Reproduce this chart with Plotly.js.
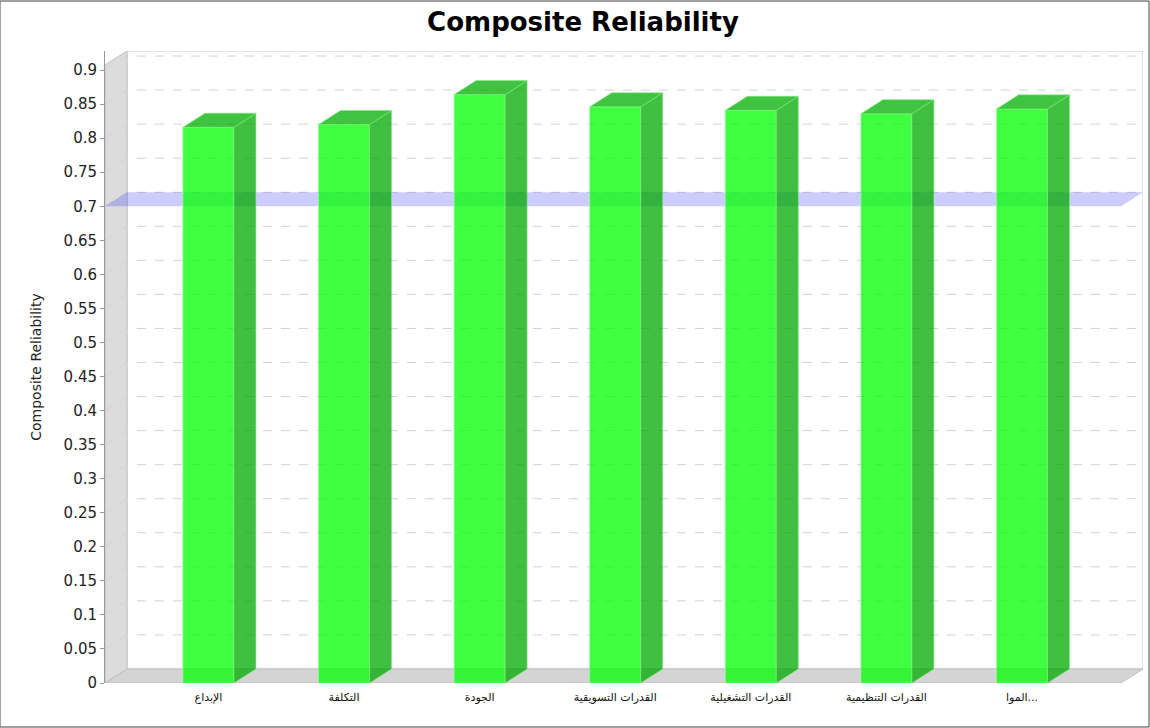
<!DOCTYPE html>
<html>
<head>
<meta charset="utf-8">
<script src="https://cdn.plot.ly/plotly-3.0.1.min.js"></script>
<style>html,body{margin:0;padding:0;background:#fff;}#chart{width:1150px;height:728px;}</style>
</head>
<body>
<div id="chart"></div>
<script>
// ---- data ----
const categories = ["الإبداع", "التكلفة", "الجودة", "القدرات التسويقية", "القدرات التشغيلية", "القدرات التنظيمية", "الموا..."];
const values = [0.816, 0.820, 0.864, 0.846, 0.841, 0.836, 0.843];
const threshold = 0.7;
const yTickVals = [0,0.05,0.1,0.15,0.2,0.25,0.3,0.35,0.4,0.45,0.5,0.55,0.6,0.65,0.7,0.75,0.8,0.85,0.9];
const yTickText = ["0","0.05","0.1","0.15","0.2","0.25","0.3","0.35","0.4","0.45","0.5","0.55","0.6","0.65","0.7","0.75","0.8","0.85","0.9"];

// ---- 3D look geometry (axis units) ----
const X0 = -0.763, X1 = 6.892, DX = 0.162, DY = 0.0206, YTOP = 0.928, W = 0.376;
const X1F = X1 - DX;
const xs = categories.map((c, i) => i);

const traces = [];

// bar front faces
traces.push({
  type: 'bar', x: xs, y: values, width: W, hoverinfo: 'skip', showlegend: false,
  marker: {color: 'rgba(0,255,0,0.75)', line: {color: 'rgba(140,255,140,0.7)', width: 1}}
});

// bar side and top faces
xs.forEach((x, i) => {
  const v = values[i], r = x + W / 2, l = x - W / 2;
  traces.push({
    type: 'scatter', mode: 'lines', hoverinfo: 'skip', showlegend: false,
    x: [r, r + DX, r + DX, r, r], y: [0, DY, v + DY, v, 0],
    fill: 'toself', fillcolor: 'rgba(0,170,0,0.75)', line: {color: 'rgba(130,235,130,0.6)', width: 1}
  });
  traces.push({
    type: 'scatter', mode: 'lines', hoverinfo: 'skip', showlegend: false,
    x: [l, l + DX, r + DX, r, l], y: [v, v + DY, v + DY, v, v],
    fill: 'toself', fillcolor: 'rgba(0,175,0,0.75)', line: {color: 'rgba(130,235,130,0.6)', width: 1}
  });
});

const shapes = [
  // back wall
  {type: 'rect', xref: 'x', yref: 'y', x0: X0 + DX, x1: X1, y0: DY, y1: YTOP, line: {color: '#c8c8c8', width: 1}, fillcolor: 'rgba(0,0,0,0)', layer: 'below'},
  // left wall
  {type: 'path', xref: 'x', yref: 'y', path: `M ${X0},0 L ${X0 + DX},${DY} L ${X0 + DX},${YTOP} L ${X0},${YTOP - DY} Z`, fillcolor: '#dcdcdc', line: {color: '#c0c0c0', width: 1}, layer: 'below'},
  // floor
  {type: 'path', xref: 'x', yref: 'y', path: `M ${X0},0 L ${X1F},0 L ${X1},${DY} L ${X0 + DX},${DY} Z`, fillcolor: '#d4d4d4', line: {color: '#c0c0c0', width: 1}, layer: 'below'}
];
// gridlines (wall diagonals + back wall lines)
yTickVals.forEach(v => {
  if (v === 0) return;
  shapes.push({type: 'path', xref: 'x', yref: 'y', layer: 'below',
    path: `M ${X0},${v} L ${X0 + DX},${v + DY} L ${X1},${v + DY}`,
    line: {color: '#d2d2d2', width: 1, dash: 'dash'}});
});
// threshold band (below bars)
shapes.push({type: 'path', xref: 'x', yref: 'y', layer: 'below',
  path: `M ${X0},${threshold} L ${X1F},${threshold} L ${X1},${threshold + DY} L ${X0 + DX},${threshold + DY} Z`,
  fillcolor: 'rgba(0,0,255,0.2)', line: {width: 0}});
// outer border
shapes.push({type: 'rect', xref: 'paper', yref: 'paper', x0: -105/1038, x1: 1 + 6/1038, y0: -44/632, y1: 1 + 50/632, line: {color: '#444', width: 1}, fillcolor: 'rgba(0,0,0,0)'});

const layout = {
  width: 1150, height: 728,
  margin: {l: 105, r: 7, t: 51, b: 45, pad: 0},
  paper_bgcolor: '#fff', plot_bgcolor: 'rgba(0,0,0,0)',
  title: {text: '<b>Composite Reliability</b>', x: 583/1150, xanchor: 'center', y: 1 - 22/728, yanchor: 'middle',
          font: {family: 'DejaVu Sans, sans-serif', size: 26, color: '#000'}},
  xaxis: {
    range: [X0, X1], tickvals: xs, ticktext: categories, showgrid: false, zeroline: false,
    showline: false, ticks: '', ticklabelstandoff: 6,
    tickfont: {family: 'DejaVu Sans, sans-serif', size: 11, color: '#111'},
    fixedrange: true
  },
  yaxis: {
    range: [0, YTOP], tickvals: yTickVals, ticktext: yTickText, showgrid: false, zeroline: false,
    showline: true, linecolor: '#999', ticks: 'outside', ticklen: 4, tickcolor: '#999',
    tickfont: {family: 'DejaVu Sans, sans-serif', size: 15, color: '#222'},
    title: {text: 'Composite Reliability', standoff: 18, font: {family: 'DejaVu Sans, sans-serif', size: 14, color: '#222'}},
    fixedrange: true
  },
  bargap: 0,
  shapes: shapes
};

Plotly.newPlot('chart', traces, layout, {staticPlot: true, displayModeBar: false});
</script>
</body>
</html>
